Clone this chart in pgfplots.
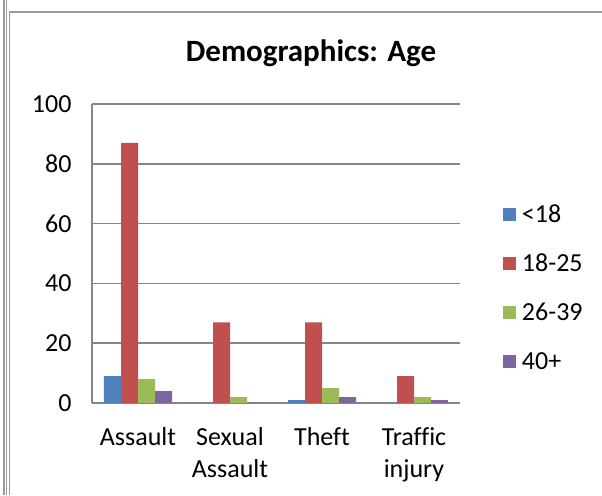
\documentclass[border=0pt]{standalone}
\usepackage{pgfplots}
\pgfplotsset{compat=1.18}
\usepackage{fontspec}
\setmainfont{Carlito}[Ligatures=NoCommon]
\definecolor{xblue}{HTML}{4F81BD}
\definecolor{xred}{HTML}{C0504D}
\definecolor{xgreen}{HTML}{9BBB59}
\definecolor{xpurple}{HTML}{8064A2}
\definecolor{gridc}{HTML}{868686}
\definecolor{framec}{HTML}{9A9A9A}
\begin{document}
\begin{tikzpicture}
\useasboundingbox (0pt,0pt) rectangle (602pt,495pt);
% worksheet frame
\draw[framec, line width=1.2pt] (4pt,0pt) -- (4pt,495pt);
\draw[framec, line width=1.2pt] (6.8pt,0pt) -- (6.8pt,495pt);
\draw[framec, line width=1.5pt] (9.5pt,0pt) -- (9.5pt,483pt) -- (602pt,483pt);
\node[font=\fontsize{31pt}{36pt}\selectfont\bfseries] at (311pt,442pt) {Demographics: Age};
\begin{axis}[
    at={(92pt,92pt)}, anchor=south west,
    scale only axis,
    width=368pt, height=299pt,
    ybar=0pt,
    bar width=17pt,
    xmin=-0.5, xmax=3.5,
    ymin=0, ymax=100,
    ytick={0,20,...,100},
    xtick=data,
    xticklabels={Assault, Sexual\\Assault, Theft, Traffic\\injury},
    x tick label style={align=center, text depth=0pt},
    xticklabel style={yshift=-21pt},
    yticklabel style={xshift=-17pt},
    major tick length=0pt,
    tick label style={font=\fontsize{26pt}{32pt}\selectfont},
    /pgf/number format/assume math mode=true,
    axis x line*=bottom,
    axis y line*=left,
    axis line style={gridc, line width=1.5pt},
    ymajorgrids,
    grid style={gridc, line width=1.5pt},
    legend style={at={(1.108,0.677)}, anchor=north west, draw=none, fill=none,
        font=\fontsize{26pt}{30pt}\selectfont, row sep=26pt,
        /tikz/every odd column/.append style={column sep=4pt}},
    legend cell align=left,
    legend image code/.code={\fill[#1] (0pt,-6.5pt) rectangle (13pt,6.5pt);},
]
\addplot[fill=xblue, draw=none] coordinates {(0,9) (1,0) (2,1) (3,0)};
\addplot[fill=xred, draw=none] coordinates {(0,87) (1,27) (2,27) (3,9)};
\addplot[fill=xgreen, draw=none] coordinates {(0,8) (1,2) (2,5) (3,2)};
\addplot[fill=xpurple, draw=none] coordinates {(0,4) (1,0) (2,2) (3,1)};
\legend{<18, 18-25, 26-39, 40+}
\end{axis}
\end{tikzpicture}
\end{document}
